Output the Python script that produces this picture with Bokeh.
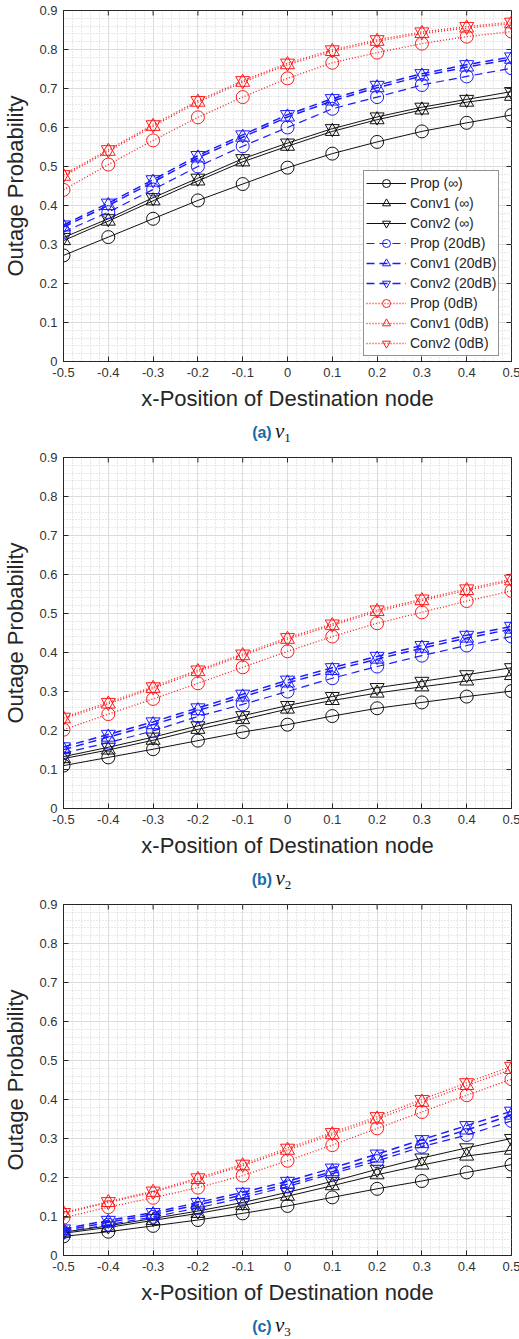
from bokeh.plotting import figure
from bokeh.models import FixedTicker, Range1d, Div
from bokeh.layouts import column
from bokeh.embed import file_html
from bokeh.resources import INLINE

# ---- data -------------------------------------------------------------
x_pos = [-0.5, -0.4, -0.3, -0.2, -0.1, 0.0, 0.1, 0.2, 0.3, 0.4, 0.5]
x_tick_labels = ["-0.5", "-0.4", "-0.3", "-0.2", "-0.1", "0", "0.1", "0.2", "0.3", "0.4", "0.5"]
y_ticks = [0.0, 0.1, 0.2, 0.3, 0.4, 0.5, 0.6, 0.7, 0.8, 0.9]
y_tick_labels = ["0", "0.1", "0.2", "0.3", "0.4", "0.5", "0.6", "0.7", "0.8", "0.9"]

series_names = ["Prop (\u221e)", "Conv1 (\u221e)", "Conv2 (\u221e)",
                "Prop (20dB)", "Conv1 (20dB)", "Conv2 (20dB)",
                "Prop (0dB)", "Conv1 (0dB)", "Conv2 (0dB)"]

# (a) v1
v1_prop_inf = [0.272, 0.319, 0.366, 0.413, 0.455, 0.497, 0.533, 0.563, 0.590, 0.612, 0.632]
v1_conv1_inf = [0.310, 0.360, 0.412, 0.463, 0.512, 0.552, 0.590, 0.620, 0.645, 0.665, 0.680]
v1_conv2_inf = [0.318, 0.366, 0.420, 0.470, 0.520, 0.560, 0.597, 0.627, 0.652, 0.672, 0.692]
v1_prop_20 = [0.332, 0.383, 0.441, 0.500, 0.552, 0.600, 0.648, 0.678, 0.709, 0.731, 0.752]
v1_conv1_20 = [0.345, 0.400, 0.460, 0.522, 0.575, 0.627, 0.668, 0.702, 0.732, 0.755, 0.775]
v1_conv2_20 = [0.350, 0.406, 0.466, 0.528, 0.581, 0.633, 0.674, 0.708, 0.738, 0.761, 0.781]
v1_prop_0 = [0.440, 0.505, 0.567, 0.626, 0.678, 0.726, 0.766, 0.792, 0.815, 0.833, 0.846]
v1_conv1_0 = [0.475, 0.539, 0.603, 0.665, 0.716, 0.761, 0.795, 0.821, 0.841, 0.855, 0.866]
v1_conv2_0 = [0.479, 0.543, 0.607, 0.669, 0.720, 0.765, 0.799, 0.825, 0.845, 0.859, 0.870]

# (b) v2
v2_prop_inf = [0.110, 0.131, 0.152, 0.174, 0.196, 0.215, 0.237, 0.257, 0.272, 0.287, 0.301]
v2_conv1_inf = [0.128, 0.150, 0.175, 0.203, 0.228, 0.255, 0.277, 0.296, 0.312, 0.327, 0.341]
v2_conv2_inf = [0.133, 0.157, 0.183, 0.212, 0.238, 0.264, 0.287, 0.310, 0.326, 0.343, 0.361]
v2_prop_20 = [0.142, 0.169, 0.199, 0.236, 0.267, 0.300, 0.334, 0.364, 0.392, 0.418, 0.441]
v2_conv1_20 = [0.151, 0.183, 0.215, 0.251, 0.286, 0.322, 0.354, 0.383, 0.411, 0.437, 0.460]
v2_conv2_20 = [0.158, 0.190, 0.222, 0.258, 0.293, 0.329, 0.361, 0.390, 0.418, 0.444, 0.467]
v2_prop_0 = [0.202, 0.242, 0.281, 0.321, 0.362, 0.403, 0.441, 0.475, 0.503, 0.532, 0.558]
v2_conv1_0 = [0.230, 0.268, 0.308, 0.351, 0.392, 0.434, 0.469, 0.505, 0.533, 0.559, 0.584]
v2_conv2_0 = [0.234, 0.272, 0.312, 0.355, 0.396, 0.438, 0.473, 0.509, 0.537, 0.563, 0.588]

# (c) v3
v3_prop_inf = [0.049, 0.061, 0.076, 0.091, 0.108, 0.127, 0.149, 0.171, 0.191, 0.213, 0.233]
v3_conv1_inf = [0.057, 0.072, 0.090, 0.108, 0.128, 0.152, 0.179, 0.207, 0.232, 0.255, 0.270]
v3_conv2_inf = [0.060, 0.076, 0.095, 0.114, 0.136, 0.162, 0.190, 0.221, 0.250, 0.276, 0.300]
v3_prop_20 = [0.060, 0.079, 0.099, 0.122, 0.148, 0.177, 0.210, 0.242, 0.279, 0.309, 0.345]
v3_conv1_20 = [0.064, 0.085, 0.105, 0.130, 0.155, 0.183, 0.215, 0.250, 0.287, 0.322, 0.360]
v3_conv2_20 = [0.068, 0.090, 0.110, 0.136, 0.162, 0.190, 0.224, 0.260, 0.297, 0.333, 0.370]
v3_prop_0 = [0.097, 0.124, 0.148, 0.174, 0.205, 0.243, 0.283, 0.326, 0.368, 0.411, 0.452]
v3_conv1_0 = [0.108, 0.136, 0.162, 0.195, 0.230, 0.270, 0.310, 0.350, 0.393, 0.436, 0.477]
v3_conv2_0 = [0.110, 0.138, 0.165, 0.199, 0.234, 0.275, 0.315, 0.356, 0.400, 0.443, 0.485]

panels = [
    ("a", "1", [v1_prop_inf, v1_conv1_inf, v1_conv2_inf, v1_prop_20, v1_conv1_20,
                v1_conv2_20, v1_prop_0, v1_conv1_0, v1_conv2_0]),
    ("b", "2", [v2_prop_inf, v2_conv1_inf, v2_conv2_inf, v2_prop_20, v2_conv1_20,
                v2_conv2_20, v2_prop_0, v2_conv1_0, v2_conv2_0]),
    ("c", "3", [v3_prop_inf, v3_conv1_inf, v3_conv2_inf, v3_prop_20, v3_conv1_20,
                v3_conv2_20, v3_prop_0, v3_conv1_0, v3_conv2_0]),
]

# ---- styles -----------------------------------------------------------
BLACK = "#111111"
BLUE = "#1a1aff"
RED = "#ff1a1a"
styles = [
    dict(color=BLACK, dash="solid", width=1.0, marker="circle", size=13),
    dict(color=BLACK, dash="solid", width=1.0, marker="triangle", size=14),
    dict(color=BLACK, dash="solid", width=1.0, marker="inverted_triangle", size=14),
    dict(color=BLUE, dash="8 5", width=1.2, marker="circle", size=13),
    dict(color=BLUE, dash="8 5", width=1.5, marker="triangle", size=14),
    dict(color=BLUE, dash="8 5", width=1.5, marker="inverted_triangle", size=14),
    dict(color=RED, dash="1 2", width=1.3, marker="circle", size=13),
    dict(color=RED, dash="1 2", width=1.3, marker="triangle", size=14),
    dict(color=RED, dash="1 2", width=1.3, marker="inverted_triangle", size=14),
]

FONT = "Liberation Sans"
AXIS_COLOR = "#262626"
FRAME_W, FRAME_H = 448, 351
TICK_PX = 5

x_minor = [round(-0.5 + 0.02 * i, 2) for i in range(51)]
y_minor = [round(0.02 * i, 2) for i in range(46)]


def style_axis(ax, labels):
    ax.axis_line_color = AXIS_COLOR
    ax.major_tick_line_color = AXIS_COLOR
    ax.major_tick_in = TICK_PX
    ax.major_tick_out = 0
    ax.minor_tick_in = 0
    ax.minor_tick_out = 0
    ax.major_label_text_font = FONT
    ax.major_label_text_color = "#333333"
    ax.major_label_text_font_size = "13px"
    ax.major_label_overrides = labels
    ax.axis_label_text_font = FONT
    ax.axis_label_text_font_style = "normal"
    ax.axis_label_text_font_size = "22px"
    ax.axis_label_text_color = AXIS_COLOR


def make_panel(values, with_legend):
    x0, x1, y0, y1 = -0.5, 0.5, 0.0, 0.9
    p = figure(frame_width=FRAME_W, frame_height=FRAME_H,
               x_range=Range1d(x0, x1), y_range=Range1d(y0, y1),
               output_backend="svg", toolbar_location=None,
               min_border_left=59, min_border_right=12,
               min_border_top=10, min_border_bottom=55)
    p.outline_line_color = AXIS_COLOR
    p.outline_line_alpha = 1.0

    xt = FixedTicker(ticks=x_pos, minor_ticks=x_minor)
    yt = FixedTicker(ticks=y_ticks, minor_ticks=y_minor)

    p.xaxis.ticker = xt
    p.yaxis.ticker = yt
    style_axis(p.xaxis[0], dict(zip(x_pos, x_tick_labels)))
    style_axis(p.yaxis[0], dict(zip(y_ticks, y_tick_labels)))
    p.xaxis.axis_label = "x-Position of Destination node"
    p.yaxis.axis_label = "Outage Probability"
    p.xaxis.major_label_standoff = 6
    p.xaxis.axis_label_standoff = 6
    p.yaxis.major_label_standoff = 6
    p.yaxis.axis_label_standoff = 8

    for g in (p.xgrid[0], p.ygrid[0]):
        g.grid_line_color = "#dcdcdc"
        g.grid_line_width = 1
        g.minor_grid_line_color = "#d0d0d0"
        g.minor_grid_line_dash = "1 2"
        g.minor_grid_line_width = 1
    p.xgrid[0].ticker = xt
    p.ygrid[0].ticker = yt

    # inward tick marks along the top and right edges of the box
    dy = TICK_PX * (y1 - y0) / FRAME_H
    dx = TICK_PX * (x1 - x0) / FRAME_W
    p.segment(x0=x_pos, y0=[y1] * len(x_pos), x1=x_pos, y1=[y1 - dy] * len(x_pos),
              line_color=AXIS_COLOR, line_width=1)
    p.segment(x0=[x1] * len(y_ticks), y0=y_ticks, x1=[x1 - dx] * len(y_ticks), y1=y_ticks,
              line_color=AXIS_COLOR, line_width=1)

    for name, ys, st in zip(series_names, values, styles):
        kw = dict(legend_label=name) if with_legend else {}
        p.line(x_pos, ys, line_color=st["color"], line_dash=st["dash"],
               line_width=st["width"], **kw)
        p.scatter(x_pos, ys, marker=st["marker"], size=st["size"],
                  fill_color=None, line_color=st["color"], line_width=1.0, **kw)

    if with_legend:
        lg = p.legend[0]
        lg.location = (300, 5)
        lg.label_text_font = FONT
        lg.label_text_font_size = "14px"
        lg.label_text_color = AXIS_COLOR
        lg.glyph_width = 40
        lg.glyph_height = 20
        lg.label_height = 20
        lg.label_standoff = 4
        lg.spacing = 0
        lg.padding = 2
        lg.margin = 0
        lg.border_line_color = AXIS_COLOR
        lg.border_line_width = 1
        lg.background_fill_alpha = 1.0
    return p


def caption(letter, sub, height):
    html = (
        '<div style="width:519px;text-align:center;padding-left:24px;box-sizing:border-box;">'
        '<span style="font-family:\'Liberation Sans\';font-weight:bold;font-size:16px;'
        'color:#1b6aa5;">(%s)</span>&nbsp;'
        '<span style="font-family:\'Liberation Serif\';font-style:italic;font-size:21px;'
        'color:#111;">v</span><span style="font-family:\'Liberation Serif\';font-size:13px;'
        'color:#111;position:relative;top:4px;">%s</span></div>' % (letter, sub)
    )
    return Div(text=html, width=519, height=height, margin=0)


items = []
for i, (letter, sub, vals) in enumerate(panels):
    items.append(make_panel(vals, with_legend=(i == 0)))
    items.append(caption(letter, sub, 31 if i < 2 else 30))

layout = column(*items, spacing=0)
open("out.html", "w").write(file_html(layout, INLINE))
